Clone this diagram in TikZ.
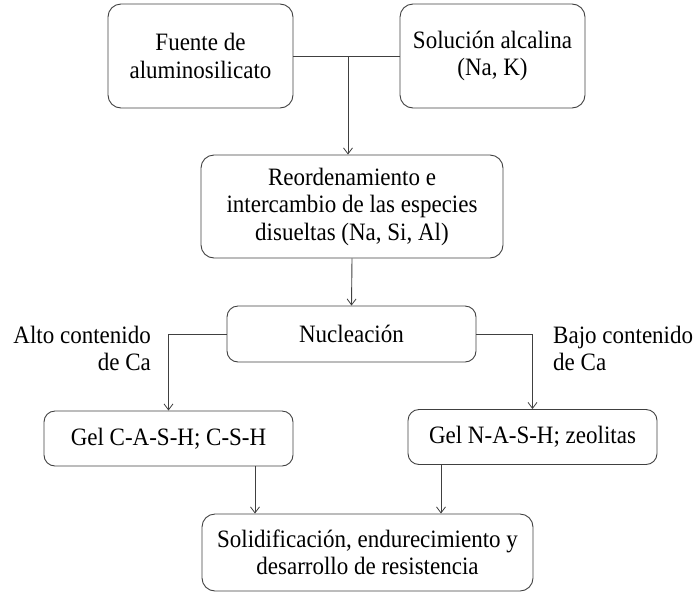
\documentclass[tikz,border=0pt]{standalone}
\usepackage{fontspec}
\setmainfont{Liberation Serif}[FakeStretch=0.92]
\usetikzlibrary{arrows.meta}
\definecolor{linegray}{HTML}{404040}
\tikzset{
  box/.style={draw=linegray, line width=0.9pt, rounded corners=13pt, align=center,
    inner sep=0pt, font=\fontsize{25}{27.5}\selectfont, text=black},
  lbl/.style={inner sep=0pt, font=\fontsize{25}{27.5}\selectfont, text=black},
  conn/.style={draw=linegray, line width=0.9pt},
  arr/.style={conn, -{Straight Barb[length=6pt,width=9pt,line width=0.8pt]}}
}
\begin{document}
\begin{tikzpicture}[x=1pt,y=-1pt]
\useasboundingbox (0,0) rectangle (695,592);
\node[box, minimum width=185pt, minimum height=104pt] (f1) at (200.5,56) {Fuente de\\aluminosilicato};
\node[box, minimum width=185pt, minimum height=104pt] (f2) at (492.5,56) {Solución alcalina\\(Na, K)};
\node[box, minimum width=302pt, minimum height=103pt] (reo) at (352,206.5) {Reordenamiento e\\intercambio de las especies\\disueltas (Na, Si, Al)};
\node[box, minimum width=249pt, minimum height=56pt, rounded corners=11pt] (nuc) at (351.5,334) {Nucleación};
\node[box, minimum width=249pt, minimum height=55pt, rounded corners=11pt] (g1) at (168.5,438.5) {Gel C-A-S-H; C-S-H};
\node[box, minimum width=249pt, minimum height=55pt, rounded corners=11pt] (g2) at (532.5,437) {Gel N-A-S-H; zeolitas};
\node[box, minimum width=331pt, minimum height=77pt] (sol) at (367.5,552.5) {Solidificación, endurecimiento y\\desarrollo de resistencia};
\node[lbl, anchor=east, align=right] (la) at (151,348.5) {Alto contenido\\de Ca};
\node[lbl, anchor=west, align=left] (lb) at (553,348.5) {Bajo contenido\\de Ca};
\coordinate (j) at (348,56);
\draw[conn] (f1.east) -- (f2.west);
\draw[arr] (j) -- (j |- reo.north);
\draw[arr] (reo.south) -- (nuc.north);
\draw[arr] (nuc.west) -| (g1.north);
\draw[arr] (nuc.east) -| (g2.north);
\draw[arr] (255,0 |- g1.south) -- (255,0 |- sol.north);
\draw[arr] (441,0 |- g2.south) -- (441,0 |- sol.north);
\end{tikzpicture}
\end{document}
